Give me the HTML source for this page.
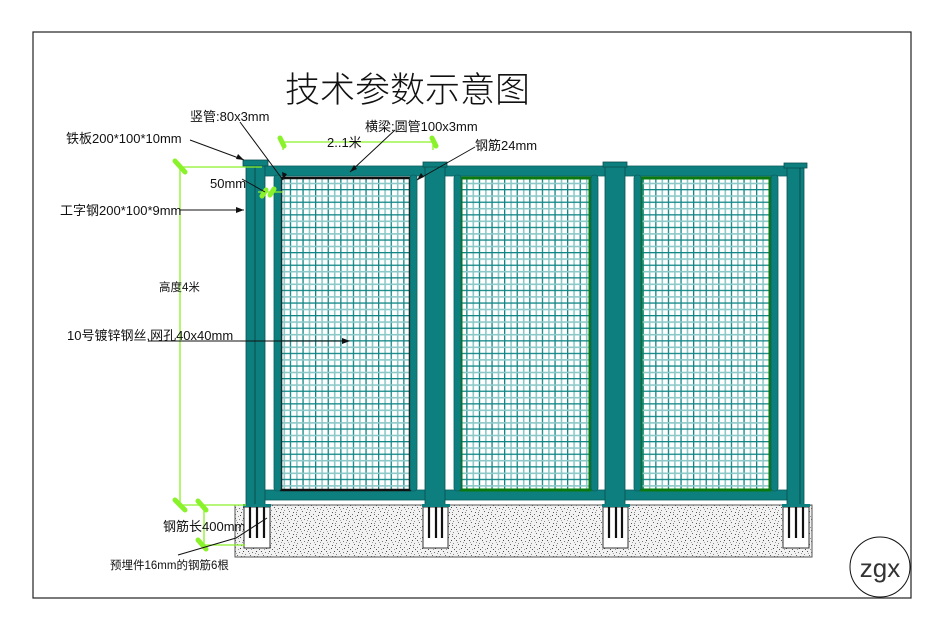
<!DOCTYPE html>
<html><head><meta charset="utf-8"><style>
html,body{margin:0;padding:0;background:#fff;}
svg{display:block;}
text{font-family:"Liberation Sans","Noto Sans CJK SC",sans-serif;}
</style></head><body>
<svg width="928" height="621" viewBox="0 0 928 621" xmlns="http://www.w3.org/2000/svg">
<defs>
<pattern id="mesh" width="12.6" height="12.6" patternUnits="userSpaceOnUse">
<rect width="12.6" height="12.6" fill="#fff"/>
<rect x="0" y="0" width="1.3" height="12.6" fill="#108585"/>
<rect x="6.3" y="0" width="1.6" height="12.6" fill="#8cc8c8"/>
<rect x="0" y="0" width="12.6" height="1.3" fill="#108585"/>
<rect x="0" y="6.3" width="12.6" height="1.6" fill="#8cc8c8"/>
</pattern>
<pattern id="conc" width="13" height="11" patternUnits="userSpaceOnUse">
<rect width="13" height="11" fill="#f2f2f2"/>
<rect x="1" y="1" width="1" height="1" fill="#555"/><rect x="5" y="2" width="1" height="1" fill="#777"/>
<rect x="9" y="1" width="1" height="1" fill="#444"/><rect x="3" y="5" width="1" height="1" fill="#666"/>
<rect x="7" y="6" width="1" height="1" fill="#555"/><rect x="11" y="4" width="1" height="1" fill="#888"/>
<rect x="1" y="8" width="1" height="1" fill="#777"/><rect x="6" y="9" width="1" height="1" fill="#444"/>
<rect x="10" y="8" width="1" height="1" fill="#666"/><rect x="12" y="10" width="1" height="1" fill="#555"/>
<rect x="4" y="10" width="1" height="1" fill="#999"/><rect x="8" y="3" width="1" height="1" fill="#999"/>
<rect x="2" y="3" width="1" height="1" fill="#aaa"/><rect x="10" y="6" width="1" height="1" fill="#888"/>
</pattern>
</defs>
<rect x="33" y="32" width="878" height="566" fill="none" stroke="#222" stroke-width="1.2"/>
<text x="285" y="102" font-size="35" font-family="Noto Sans CJK SC,sans-serif" font-weight="300" fill="#111">技术参数示意图</text>

<rect x="235" y="505" width="577" height="52" fill="url(#conc)" stroke="#555" stroke-width="1"/>
<g fill="#fff" stroke="#333" stroke-width="1">
<rect x="244" y="507" width="26" height="41"/><rect x="423" y="507" width="25" height="41"/>
<rect x="603" y="507" width="25" height="41"/><rect x="783" y="507" width="26" height="41"/>
</g>
<g stroke="#111" stroke-width="2.2" fill="none">
<path d="M250 507V538M257 507V538M264 507V538"/>
<path d="M429 507V538M436 507V538M442 507V538"/>
<path d="M609 507V538M616 507V538M622 507V538"/>
<path d="M789 507V538M796 507V538M803 507V538"/>
</g>
<rect x="262" y="166" width="538" height="10" fill="#0e7f7f" stroke="#0a5f5f" stroke-width="0.8"/>
<rect x="262" y="490" width="538" height="10" fill="#0e7f7f" stroke="#0a5f5f" stroke-width="0.8"/>
<rect x="281" y="178" width="129" height="312" fill="url(#mesh)" stroke="#111" stroke-width="2.5"/>
<rect x="461" y="178" width="129" height="312" fill="url(#mesh)" stroke="#0a7a10" stroke-width="3"/>
<rect x="641" y="178" width="129" height="312" fill="url(#mesh)" stroke="#0a7a10" stroke-width="3"/>
<g fill="#0e7f7f" stroke="#0a5f5f" stroke-width="0.8">
<rect x="274" y="175" width="7" height="316" rx="3"/><rect x="410" y="175" width="7" height="316" rx="3"/>
<rect x="454" y="175" width="7" height="316" rx="3"/><rect x="591" y="175" width="7" height="316" rx="3"/>
<rect x="634" y="175" width="7" height="316" rx="3"/><rect x="771" y="175" width="7" height="316" rx="3"/>
</g>
<g fill="#0e7f7f" stroke="#0a5050" stroke-width="0.8">
<rect x="246" y="165" width="19" height="340"/><rect x="243" y="160" width="25" height="6"/>
<rect x="425" y="166" width="20" height="339"/><rect x="423" y="162" width="24" height="5"/>
<rect x="605" y="166" width="20" height="339"/><rect x="603" y="162" width="24" height="5"/>
<rect x="787" y="166" width="17" height="339"/><rect x="784" y="163" width="23" height="5"/>
</g>
<path d="M255 166V505M800 168V505" stroke="#0a4040" stroke-width="0.8"/>
<g fill="#0e7f7f"><rect x="243" y="504" width="28" height="3"/><rect x="422" y="504" width="28" height="3"/><rect x="602" y="504" width="28" height="3"/><rect x="782" y="504" width="28" height="3"/></g>

<g stroke="#8af22a" stroke-width="1.3" fill="none">
<path d="M180 167H262M180 167V505M180 505H246M204 505V545H245"/>
<path d="M283 142H433M283 142V150M433 142V150"/>
<path d="M258 192H283"/>
</g>
<g stroke="#8af22a" stroke-width="5" stroke-linecap="round">
<path d="M175 161L185 172M175 500L185 510M198 501L206 510M198 540L206 549M280 138L284 146M432 138L436 146M262 196L266 190M270 195L274 189"/>
</g>

<g stroke="#111" stroke-width="1" fill="none">
<path d="M190 140L244 160M240 122L283 180M395 130L350 172M475 147L417 180M180 210H244M148 341H345M267 518L236 538L178 555M242 179L265 192"/>
</g>
<g fill="#111">
<path d="M244 160l-8 -1l2 -5z"/><path d="M244 210l-8 -3v6z"/><path d="M350 341l-8 -3v6z"/>
<path d="M350 172l4 -7l3 4z"/><path d="M417 180l4 -7l3 4z"/><path d="M283 180l-1 -8l5 2z"/>
</g>

<g font-size="13" fill="#111">
<text x="66" y="143">铁板200*100*10mm</text>
<text x="190" y="121">竖管:80x3mm</text>
<text x="365" y="131">横梁:圆管100x3mm</text>
<text x="327" y="147">2..1米</text>
<text x="475" y="150">钢筋24mm</text>
<text x="210" y="188">50mm</text>
<text x="60" y="215">工字钢200*100*9mm</text>
<text x="159" y="291" font-size="11.5">高度4米</text>
<text x="67" y="340">10号镀锌钢丝,网孔40x40mm</text>
<text x="163" y="531">钢筋长400mm</text>
<text x="110" y="569" font-size="11.5">预埋件16mm的钢筋6根</text>
</g>
<circle cx="880" cy="567" r="30" fill="none" stroke="#111" stroke-width="1"/>
<text x="880" y="577" font-size="26" text-anchor="middle" fill="#333" font-weight="300">zgx</text>
</svg>
</body></html>
